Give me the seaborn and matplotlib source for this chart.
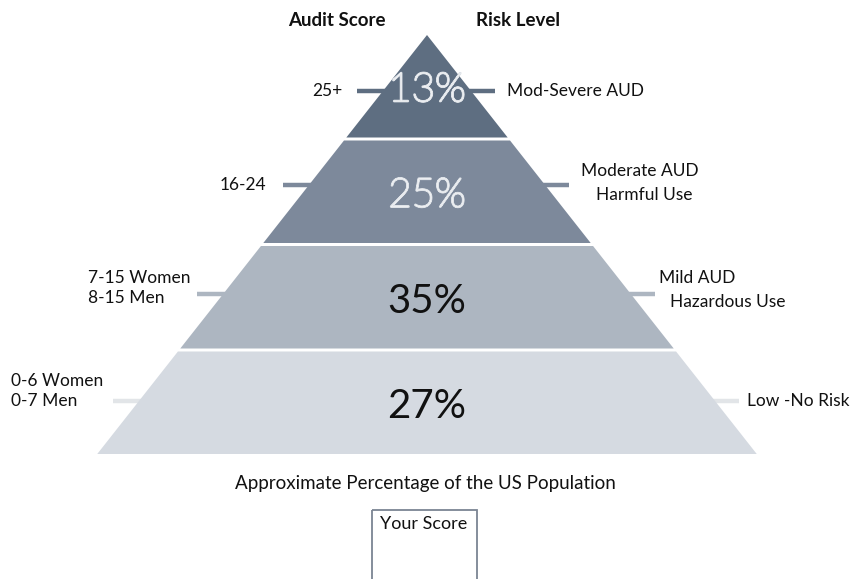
import matplotlib
matplotlib.use("Agg")
import matplotlib.pyplot as plt
import matplotlib.patheffects as pe
from matplotlib.patches import Rectangle
import seaborn as sns

# data
percentages = [13, 25, 35, 27]
score_labels = ["25+", "16-24", "7-15 Women\n8-15 Men", "0-6 Women\n0-7 Men"]
risk_labels = ["Mod-Severe AUD", "Moderate AUD\nHarmful Use", "Mild AUD\nHazardous Use", "Low -No Risk"]
layer_colors = ["#5e6e81", "#7d899b", "#adb6c1", "#d5dae1"]
tick_colors = ["#5e6e81", "#7d899b", "#adb6c1", "#e2e5e8"]
pct_colors = ["white", "white", "#111111", "#111111"]

sns.set_theme(style="white")
plt.rcParams["font.family"] = ["Lato", "DejaVu Sans"]

fig = plt.figure(figsize=(8.54, 5.79), dpi=100)
ax = fig.add_axes([0, 0, 1, 1])
ax.set_xlim(0, 854)
ax.set_ylim(579, 0)
ax.axis("off")

# pyramid layout (pixel space)
cx, apex, step, gap, slope = 427, 35, 105.5, 3, 0.787

def half(y):
    return slope * (y - apex)

left_pos = [(342, "right"), (266, "right"), (88, "left"), (11, "left")]
left_y = [91, 185, 288, 391]
right_line_x = [[507], [581, 596], [659, 670], [747]]
right_y = [91, 183, 290, 401]
tick_y = [91, 185, 294, 401]

for i, pct in enumerate(percentages):
    top = apex + i * step
    bot = apex + (i + 1) * step - gap
    xs = [cx - half(top), cx + half(top), cx + half(bot), cx - half(bot)]
    ys = [top, top, bot, bot]
    ax.fill(xs, ys, color=layer_colors[i], lw=0, zorder=2)

    # ticks
    ty = tick_y[i]
    e = half(ty)
    ax.plot([cx - e - 26, cx - e + 2], [ty, ty], color=tick_colors[i], lw=3.2,
            solid_capstyle="butt", zorder=1)
    ax.plot([cx + e - 2, cx + e + 24], [ty, ty], color=tick_colors[i], lw=3.2,
            solid_capstyle="butt", zorder=1)

    # percentage
    mid = (top + bot) / 2 + 4
    light = pct_colors[i] == "white"
    t = ax.text(cx, mid, f"{pct}%", ha="center", va="center", fontsize=29,
                color=pct_colors[i], zorder=3,
                fontweight="light" if light else "normal")
    if light:
        t.set_path_effects([pe.Stroke(linewidth=1.6, foreground="#dfe3e8"),
                            pe.Normal()])

    # left label
    lx, ha = left_pos[i]
    ax.text(lx, left_y[i], score_labels[i], ha=ha, va="center", fontsize=12.5,
            color="#111111", multialignment="left", linespacing=1.3)

    # right label (line by line)
    lines = risk_labels[i].split("\n")
    n = len(lines)
    for k, line in enumerate(lines):
        ly = right_y[i] + (k - (n - 1) / 2) * 24
        ax.text(right_line_x[i][k], ly, line, ha="left", va="center",
                fontsize=12.5, color="#111111")

# headers
ax.text(337, 20, "Audit Score", ha="center", va="center", fontsize=13.5,
        fontweight="bold", color="#111111")
ax.text(518, 20, "Risk Level", ha="center", va="center", fontsize=13.5,
        fontweight="bold", color="#111111")

ax.text(425, 483, "Approximate Percentage of the US Population", ha="center",
        va="center", fontsize=13.5, color="#111111")

ax.add_patch(Rectangle((372, 510), 105, 75, fill=False, edgecolor="#7b8593",
                       lw=1.3, zorder=2))
ax.text(424, 524, "Your Score", ha="center", va="center", fontsize=13,
        color="#111111")

fig.savefig("out.png", dpi=100)
